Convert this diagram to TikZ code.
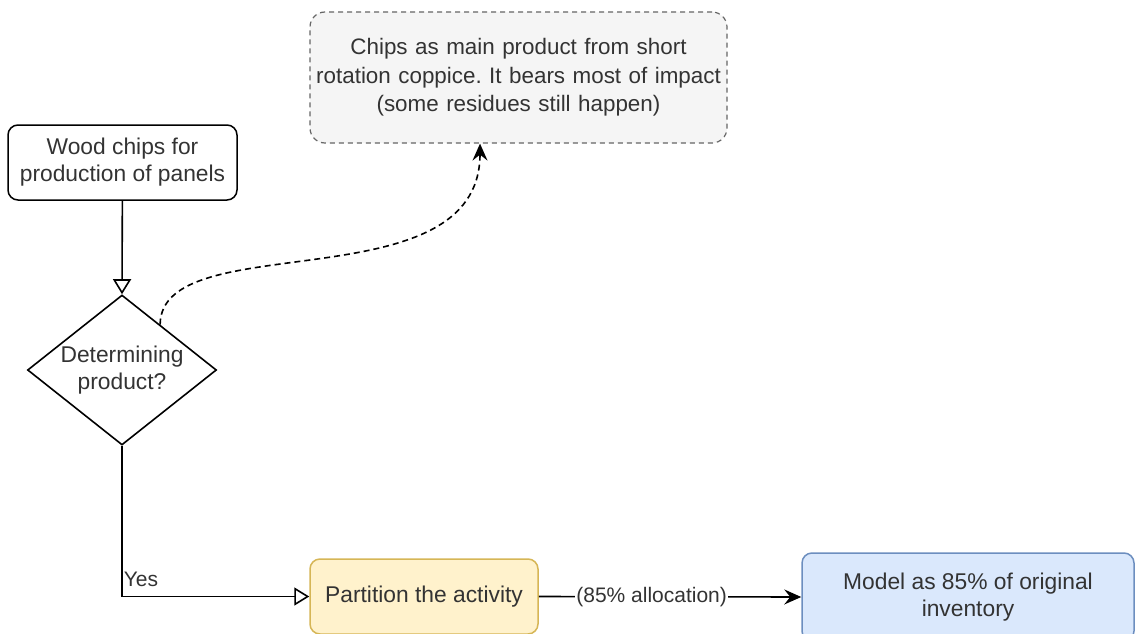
\documentclass[tikz,border=0pt]{standalone}
\usepackage{fontspec}
\setmainfont{Liberation Sans}
\usetikzlibrary{shapes.geometric,arrows.meta,calc}

\definecolor{txtgray}{HTML}{333333}
\definecolor{notefill}{HTML}{F5F5F5}
\definecolor{noteline}{HTML}{666666}
\definecolor{partfill}{HTML}{FFF2CC}
\definecolor{partline}{HTML}{D6B656}
\definecolor{modelfill}{HTML}{DAE8FC}
\definecolor{modelline}{HTML}{6C8EBF}

\tikzset{
  boxtext/.style={font=\fontsize{22.8}{27}\selectfont\frenchspacing, text=txtgray, align=center},
  flowbox/.style={boxtext, draw, line width=1.5pt, rounded corners=10pt, inner sep=0pt},
  openarrow/.style={line width=1.6pt, -{Triangle[open, width=18pt, length=15pt]}},
  fillarrow/.style={line width=1.6pt, -{Stealth[width=15pt, length=17pt, inset=6pt]}},
  edgelbl/.style={font=\fontsize{21}{25}\selectfont, text=txtgray, inner sep=1pt}
}

\begin{document}
\begin{tikzpicture}[x=1pt, y=-1pt]
  \useasboundingbox (0,0) rectangle (1137,634);
  \clip (0,0) rectangle (1137,634);

  \node[flowbox, minimum width=229pt, minimum height=75pt] (wood) at (122.5, 162.5)
    {Wood chips for\\production of panels};
  \node[draw, diamond, line width=1.6pt, minimum width=189pt, minimum height=150pt,
        inner sep=0pt, label={[boxtext]center:Determining\\product?}] (dec) at (122, 370) {};
  \node[flowbox, draw=noteline, fill=notefill, dashed, dash pattern=on 5pt off 4pt,
        line width=1.2pt, rounded corners=15pt, minimum width=417pt, minimum height=131pt,
        text width=410pt, font=\fontsize{22.4}{28.5}\selectfont\frenchspacing] (note) at (518.5, 77.5)
    {Chips as main product from short\\rotation coppice. It bears most of impact\\(some residues still happen)};
  \node[flowbox, draw=partline, fill=partfill, minimum width=228pt, minimum height=75pt]
    (part) at (424, 596.5) {Partition the activity};
  \node[flowbox, draw=modelline, fill=modelfill, minimum width=332pt, minimum height=88pt]
    (model) at (968, 597) {Model as 85\% of original\\inventory};

  % connectors
  \draw[openarrow] (wood) -- (dec.north);
  \coordinate (bend) at ($(dec.north)!0.4!(dec.east)$);
  \coordinate (tipx) at (480, 0);
  \draw[fillarrow, dash pattern=on 6pt off 4pt] (bend)
    .. controls (161, 225) and (480, 305) .. (note.south -| tipx);
  \draw[openarrow] (dec.south) |- node[pos=0.5, anchor=south west, edgelbl, yshift=8pt] {Yes} (part.west);
  \draw[fillarrow] (part.east) -- node[pos=0.43, fill=white, edgelbl] {(85\% allocation)} (model.west);
\end{tikzpicture}
\end{document}
